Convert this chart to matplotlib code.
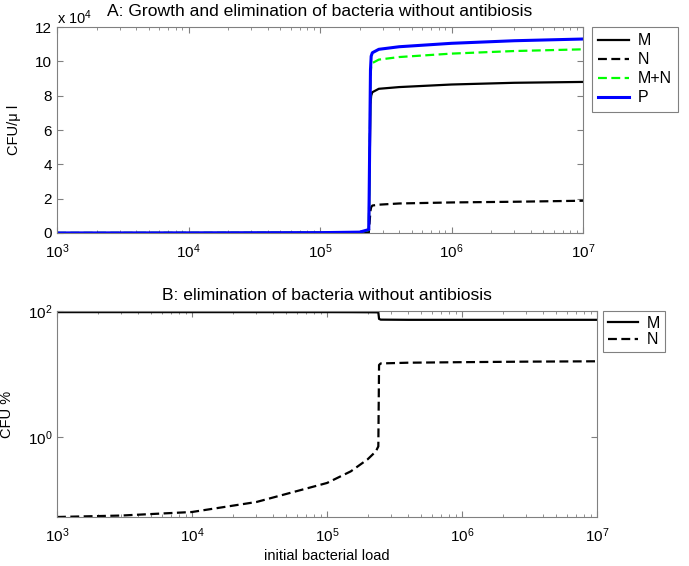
import numpy as np
import matplotlib
matplotlib.use('Agg')
from matplotlib import pyplot as plt
from matplotlib.ticker import FuncFormatter, LogLocator, NullLocator, FixedLocator

plt.rcParams['font.family'] = ['Liberation Sans', 'DejaVu Sans']
plt.rcParams['mathtext.fontset'] = 'custom'
plt.rcParams['mathtext.rm'] = 'Liberation Sans'
plt.rcParams['mathtext.it'] = 'Liberation Sans'
plt.rcParams['font.size'] = 10.5

# panel A: CFU/ul vs initial bacterial load
load_a = [1e3, 1e4, 1e5, 2.0e5, 2.35e5, 2.42e5, 2.45e5, 2.5e5, 2.8e5, 4e5, 1e6, 3e6, 1e7]
M_a = [0, 40, 150, 400, 1500, 7.5e4, 8.0e4, 8.2e4, 8.4e4, 8.5e4, 8.65e4, 8.75e4, 8.8e4]
N_a = [0, 0, 0, 50, 200, 1.3e4, 1.5e4, 1.6e4, 1.65e4, 1.72e4, 1.78e4, 1.82e4, 1.88e4]
MN_a = [0, 40, 150, 450, 1700, 9.0e4, 9.7e4, 9.9e4, 10.1e4, 10.25e4, 10.45e4, 10.6e4, 10.7e4]
P_a = [0, 50, 200, 500, 2000, 9.5e4, 10.3e4, 10.5e4, 10.7e4, 10.85e4, 11.05e4, 11.2e4, 11.3e4]

# panel B: CFU % vs initial bacterial load
load_b = [1e3, 3e3, 1e4, 3e4, 1e5, 1.5e5, 2e5, 2.3e5, 2.4e5, 2.43e5, 2.5e5, 4e5, 1e6, 3e6, 1e7]
M_b = [96, 96, 96, 96, 96, 95.8, 95.5, 95.3, 95, 75, 73, 72.5, 72.5, 72.5, 72.5]
N_b = [0.055, 0.058, 0.066, 0.095, 0.19, 0.29, 0.45, 0.6, 0.72, 14, 14.8, 15.2, 15.5, 15.8, 16]

W, H = 689, 566
fig = plt.figure(figsize=(W / 100, H / 100), dpi=100)
ax1 = fig.add_axes([57 / W, (H - 233) / H, 526 / W, 206 / H])
ax2 = fig.add_axes([57 / W, (H - 517) / H, 540 / W, 206 / H])

dash = (4, 2)
ax1.plot(load_a, M_a, color='k', lw=1.6, label='M')
ax1.plot(load_a, N_a, color='k', lw=1.6, dashes=dash, label='N')
ax1.plot(load_a, MN_a, color='#00ff00', lw=1.6, dashes=dash, label='M+N')
ax1.plot(load_a, P_a, color='#0000ff', lw=2.2, label='P')
ax1.set_xscale('log')
ax1.set_xlim(1e3, 1e7)
ax1.set_ylim(0, 12e4)
ax1.set_yticks(np.arange(0, 12.1e4, 2e4))
ax1.yaxis.set_major_formatter(FuncFormatter(lambda v, p: '%g' % (v / 1e4)))
ax1.set_ylabel('CFU/\u03bc l', labelpad=10)
ax1.set_title('A: Growth and elimination of bacteria without antibiosis', pad=8)
ax1.text(0.0, 1.0, 'x $10^{4}$', transform=ax1.transAxes, ha='left', va='bottom')

ax2.plot(load_b, M_b, color='k', lw=1.6, label='M')
ax2.plot(load_b, N_b, color='k', lw=1.6, dashes=dash, label='N')
ax2.set_xscale('log')
ax2.set_yscale('log')
ax2.set_xlim(1e3, 1e7)
ax2.set_ylim(0.055, 100)
ax2.yaxis.set_major_locator(FixedLocator([1, 100]))
ax2.yaxis.set_minor_locator(NullLocator())
ax2.set_ylabel('CFU %', labelpad=10)
ax2.set_xlabel('initial bacterial load', labelpad=3)
ax2.set_title('B: elimination of bacteria without antibiosis', pad=8)

for ax in (ax1, ax2):
    ax.xaxis.set_major_locator(FixedLocator([1e3, 1e4, 1e5, 1e6, 1e7]))
    ax.xaxis.set_minor_locator(LogLocator(base=10, subs=np.arange(2, 10)))
    ax.xaxis.set_major_formatter(FuncFormatter(lambda v, p: '$10^{%d}$' % round(np.log10(v))))
    ax.tick_params(which='both', direction='in', top=True, right=True, color='0.5')
    ax.tick_params(which='major', length=4, labelsize=11)
    ax.tick_params(which='minor', length=2.5)
    ax.tick_params(axis='x', which='major', pad=7)
    for s in ax.spines.values():
        s.set_color('0.5')

leg1 = ax1.legend(loc='upper left', bbox_to_anchor=(592 / W, 1 - 27 / H),
                  bbox_transform=fig.transFigure, fancybox=False, edgecolor='0.5',
                  framealpha=1, handlelength=1.9, borderpad=0.4, labelspacing=0.25,
                  borderaxespad=0, handletextpad=0.55, fontsize=11.5)
leg1.get_frame().set_linewidth(0.8)
leg2 = ax2.legend(loc='upper left', bbox_to_anchor=(603 / W, 1 - 311 / H),
                  bbox_transform=fig.transFigure, fancybox=False, edgecolor='0.5',
                  framealpha=1, handlelength=1.9, borderpad=0.3, labelspacing=0.1,
                  borderaxespad=0, handletextpad=0.55, fontsize=11.5)
leg2.get_frame().set_linewidth(0.8)

fig.savefig('out.png', dpi=100)
